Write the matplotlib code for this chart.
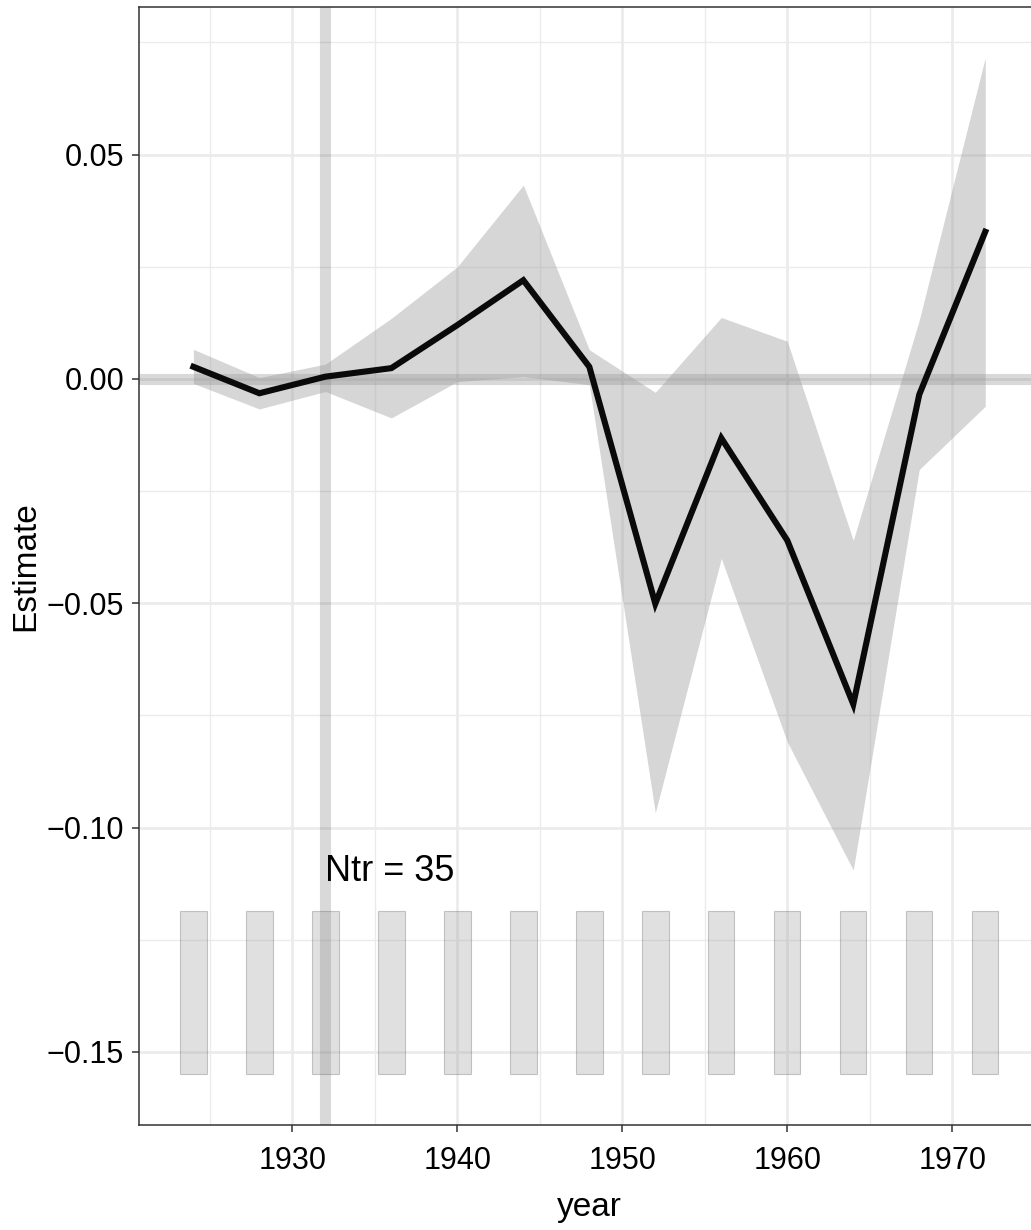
import matplotlib
matplotlib.use("Agg")
import matplotlib.pyplot as plt
from matplotlib.patches import Rectangle

plt.rcParams['font.family'] = ['Liberation Sans', 'DejaVu Sans']

# data
years = [1924, 1928, 1932, 1936, 1940, 1944, 1948, 1952, 1956, 1960, 1964, 1968, 1972]
estimate = [0.0027, -0.0032, 0.0005, 0.0024, 0.0120, 0.0220, 0.0027,
            -0.0501, -0.0132, -0.0360, -0.0725, -0.0035, 0.0328]
ci_upper = [0.0066, 0.0003, 0.0033, 0.0135, 0.0250, 0.0432, 0.0065,
            -0.0030, 0.0137, 0.0084, -0.0360, 0.0131, 0.0716]
ci_lower = [-0.0010, -0.0067, -0.0028, -0.0087, -0.0006, 0.0005, -0.0013,
            -0.0967, -0.0400, -0.0809, -0.1095, -0.0202, -0.0061]

# bars at the bottom (all the same height)
bar_top = [-0.1187, -0.1187, -0.1187, -0.1187, -0.1187, -0.1187, -0.1187,
           -0.1187, -0.1187, -0.1187, -0.1187, -0.1187, -0.1187]
bar_bottom = -0.155
bar_width = 1.6

treat_year = 1932
ntr_label = "Ntr = 35"

xticks = [1930, 1940, 1950, 1960, 1970]
yticks = [-0.15, -0.10, -0.05, 0.00, 0.05]
xminor = [1925, 1935, 1945, 1955, 1965, 1975]
yminor = [-0.125, -0.075, -0.025, 0.025, 0.075]

fig = plt.figure(figsize=(10.31, 12.30), dpi=100)
ax = fig.add_axes([0.1351, 0.0854, 1.0081 - 0.1351, 0.9943 - 0.0854])

ax.set_xlim(1920.72, 1975.28)
ax.set_ylim(-0.1663, 0.0829)

# grid like theme_bw
for v in xminor:
    ax.axvline(v, color='#ebebeb', lw=1.0, zorder=0)
for v in yminor:
    ax.axhline(v, color='#ebebeb', lw=1.0, zorder=0)
for v in xticks:
    ax.axvline(v, color='#ebebeb', lw=1.9, zorder=0)
for v in yticks:
    ax.axhline(v, color='#ebebeb', lw=1.9, zorder=0)

# reference lines
ax.axhline(0, color='black', alpha=0.15, lw=8, zorder=1)
ax.axvline(treat_year, color='black', alpha=0.15, lw=8, zorder=1)

# bars
for yr, top in zip(years, bar_top):
    ax.add_patch(Rectangle((yr - bar_width / 2, bar_bottom), bar_width, top - bar_bottom,
                           facecolor='#999999', alpha=0.3, edgecolor='#555555', lw=0.8, zorder=2))

# ribbon + line
ax.fill_between(years, ci_lower, ci_upper, color='#999999', alpha=0.4, lw=0, zorder=3)
ax.plot(years, estimate, color='#0a0a0a', lw=4.4, zorder=4, solid_joinstyle='miter')

ax.text(treat_year, -0.1097, ntr_label, ha='left', va='center', fontsize=26, zorder=5)

ax.set_xticks(xticks)
ax.set_yticks(yticks)
ax.set_yticklabels(['\u22120.15', '\u22120.10', '\u22120.05', '0.00', '0.05'])
ax.tick_params(labelsize=22, length=5, width=1.1, color='#333333', labelcolor='black', pad=6)
ax.tick_params(axis='x', pad=10)

for side in ['top', 'bottom', 'left', 'right']:
    ax.spines[side].set_color('#333333')
    ax.spines[side].set_linewidth(1.1)

ax.set_xlabel('year', fontsize=24, labelpad=12)
ax.set_ylabel('Estimate', fontsize=24, labelpad=4)

fig.savefig('out.png', dpi=100)
